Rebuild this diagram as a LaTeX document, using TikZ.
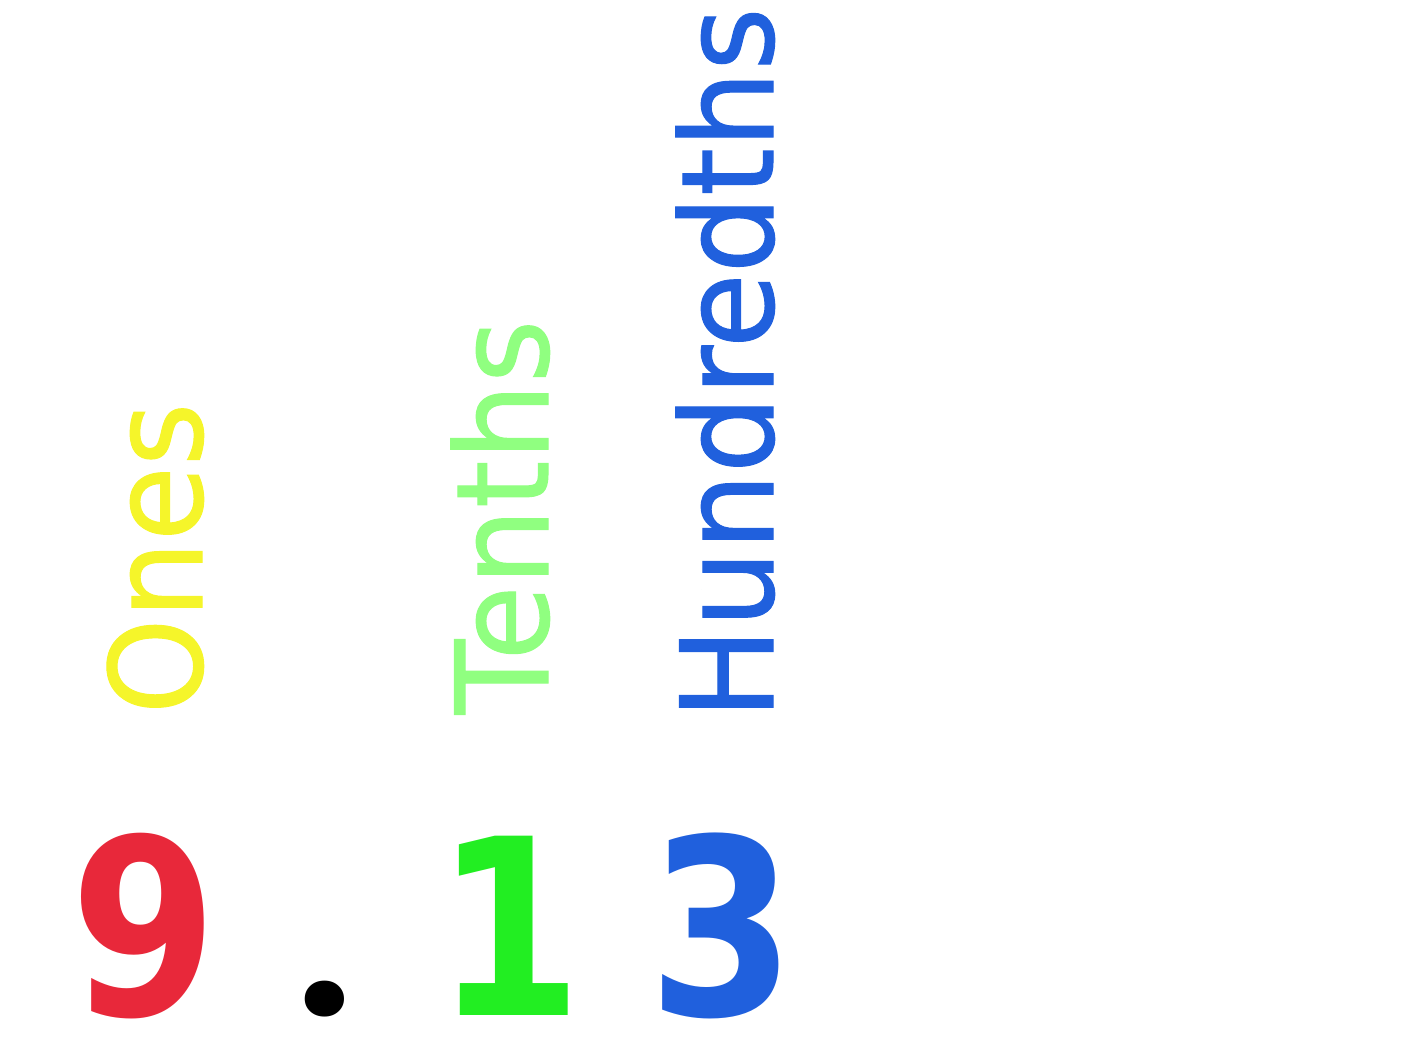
\documentclass[tikz,border=0pt]{standalone}
\usepackage{fontspec}
\setmainfont{DejaVu Sans}
\newfontfamily\lblfont[FakeStretch=0.95,FakeBold=0.8]{DejaVu Sans}
\newfontfamily\digfont[FakeStretch=0.86]{DejaVu Sans Bold}
\newfontfamily\dotfont{Poppins Bold}
\definecolor{cred}{HTML}{E8283A}
\definecolor{cyellow}{HTML}{F5F52A}
\definecolor{clgreen}{HTML}{90FF80}
\definecolor{cgreen}{HTML}{22EE22}
\definecolor{cblue}{HTML}{2060DD}
\tikzset{
  lbl/.style={rotate=90,anchor=base west,inner sep=0pt,font=\lblfont\fontsize{36.5pt}{40pt}\selectfont},
  dig/.style={anchor=base,inner sep=0pt,font=\digfont\fontsize{70pt}{80pt}\selectfont}
}
\begin{document}
\begin{tikzpicture}
\useasboundingbox (0,0) rectangle (14.14,10.44);
\node[lbl,text=cyellow] (ones) at (2.02,3.29) {Ones};
\node[lbl,text=clgreen] (tenths) at (5.48,3.29) {Tenths};
\node[lbl,text=cblue] (hund) at (7.73,3.24) {Hundredths};
\node[dig,text=cred] (nine) at (1.44,0.29) {9};
\node[dig,text=black,font=\dotfont\fontsize{55pt}{60pt}\selectfont] (dot) at (3.25,0.29) {.};
\node[dig,text=cgreen] (one) at (5.09,0.29) {1};
\node[dig,text=cblue] (three) at (7.22,0.29) {3};
\end{tikzpicture}
\end{document}
